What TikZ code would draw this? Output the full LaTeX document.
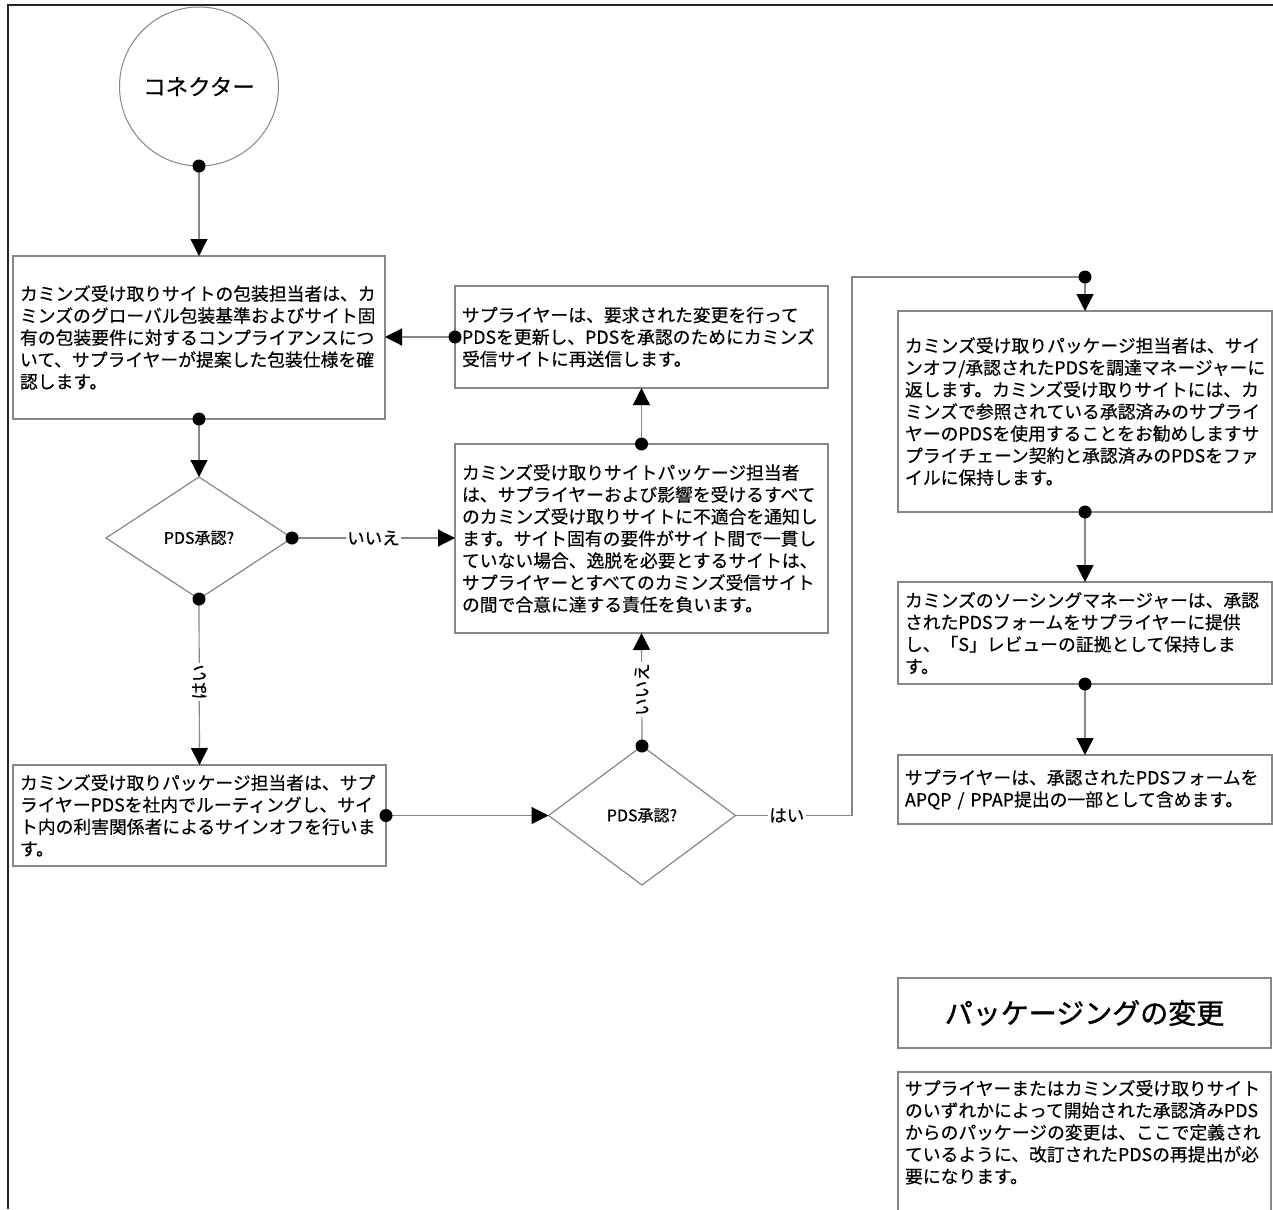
\documentclass[tikz,border=0pt]{standalone}
\usepackage{fontspec}
\setmainfont{Noto Sans CJK JP}[FakeBold=0.4]
\newfontfamily\titlefont{Noto Sans CJK JP}[FakeBold=1.2]
\usetikzlibrary{shapes.geometric,arrows.meta}
\definecolor{lg}{RGB}{135,135,135}
\newcommand\bodyfont{\fontsize{17.8}{22}\selectfont}
\tikzset{
  boxnode/.style={rectangle, draw=lg, line width=1.2pt, inner xsep=7pt, inner ysep=0pt,
    outer sep=0pt, text width=#1, align=left, font=\bodyfont},
  boxnode/.default=358pt,
  txtnode/.style={inner xsep=7pt, inner ysep=0pt, outer sep=0pt, text width=#1, align=left, font=\bodyfont},
  decision/.style={diamond, draw=lg, line width=1.2pt, inner sep=0pt, outer sep=0pt,
    font=\fontsize{16}{19}\selectfont},
  conn/.style={draw=lg, line width=1.2pt, -{Triangle[length=17pt,width=17pt,color=black]}},
  lbl/.style={fill=white, inner sep=1.5pt, text=black, font=\fontsize{17.5}{20}\selectfont},
  boxline/.style={draw=lg, line width=1.2pt},
}
\begin{document}
\begin{tikzpicture}[x=1pt,y=-1pt]
\useasboundingbox (0,0) rectangle (1273,1209);
\fill[white] (0,0) rectangle (1273,1209);
% frame
\draw[line width=1.6pt, black!85] (8,1209) -- (8,5) -- (1273,5);

% connector circle
\node[circle, draw=lg, line width=1pt, minimum size=159pt, inner sep=0pt, outer sep=0pt,
  font=\fontsize{22.5}{26}\selectfont] (start) at (199,86.5) {コネクター};

% boxes
\node[boxnode=358pt, minimum height=163pt] (box1) at (199,337.5) {カミンズ受け取りサイトの包装担当者は、カ\\ミンズのグローバル包装基準およびサイト固\\有の包装要件に対するコンプライアンスにつ\\いて、サプライヤーが提案した包装仕様を確\\認します。};
\node[boxnode=359pt, minimum height=102pt] (box2) at (641.5,337) {サプライヤーは、要求された変更を行って\\PDSを更新し、PDSを承認のためにカミンズ\\受信サイトに再送信します。};
\node[boxnode=359pt, minimum height=189pt] (box3) at (641.5,538.5) {カミンズ受け取りサイトパッケージ担当者\\は、サプライヤーおよび影響を受けるすべて\\のカミンズ受け取りサイトに不適合を通知し\\ます。サイト固有の要件がサイト間で一貫し\\ていない場合、逸脱を必要とするサイトは、\\サプライヤーとすべてのカミンズ受信サイト\\の間で合意に達する責任を負います。};
\node[boxnode=359pt, minimum height=101pt] (box4) at (199.5,815.5) {カミンズ受け取りパッケージ担当者は、サプ\\ライヤーPDSを社内でルーティングし、サイ\\ト内の利害関係者によるサインオフを行いま\\す。};
\node[boxnode=360pt, minimum height=201pt] (box5) at (1085,411.5) {カミンズ受け取りパッケージ担当者は、サイ\\ンオフ/承認されたPDSを調達マネージャーに\\返します。カミンズ受け取りサイトには、カ\\ミンズで参照されている承認済みのサプライ\\ヤーのPDSを使用することをお勧めしますサ\\プライチェーン契約と承認済みのPDSをファ\\イルに保持します。};
\node[boxnode=360pt, minimum height=102pt] (box6) at (1085,633) {カミンズのソーシングマネージャーは、承認\\されたPDSフォームをサプライヤーに提供\\し、「S」レビューの証拠として保持しま\\す。};
\node[boxnode=360pt, minimum height=69pt] (box7) at (1085,789.5) {サプライヤーは、承認されたPDSフォームを\\APQP / PPAP提出の一部として含めます。};

% decisions
\node[decision, minimum width=186pt, minimum height=122pt] (d1) at (199,538) {PDS承認?};
\node[decision, minimum width=187pt, minimum height=139pt] (d2) at (642,815.5) {PDS承認?};

% title and description
\node[rectangle, draw=lg, line width=1.2pt, minimum width=373pt, minimum height=70pt,
  inner sep=0pt, outer sep=0pt, font=\titlefont\fontsize{28}{32}\selectfont] (title) at (1084.5,1013) {パッケージングの変更};
\draw[boxline] (898,1260) -- (898,1072) -- (1271,1072) -- (1271,1260);
\node[txtnode=359pt, anchor=north west] (desc) at (898,1080) {サプライヤーまたはカミンズ受け取りサイト\\のいずれかによって開始された承認済みPDS\\からのパッケージの変更は、ここで定義され\\ているように、改訂されたPDSの再提出が必\\要になります。};

\coordinate (corner) at (1085,277);

% connectors
\draw[conn] (start.south) -- (box1.north);
\draw[conn] (box1.south) -- (d1.north);
\draw[conn] (d1.east) -- node[lbl]{いいえ} (d1.east -| box3.west);
\draw[conn] (d1.south) -- node[lbl, rotate=90]{はい} (box4.north);
\draw[conn] (box4.east) -- (d2.west);
\draw[conn] (d2.north) -- node[lbl, rotate=90]{いいえ} (box3.south);
\draw[conn] (box3.north) -- (box2.south);
\draw[conn] (box2.west) -- (box2.west -| box1.east);
\draw[conn] (d2.east) -- node[lbl, pos=0.44]{はい} (852,815.5) |- (corner) -- (box5.north);
\draw[conn] (box5.south) -- (box6.north);
\draw[conn] (box6.south) -- (box7.north);

% dots
\foreach \p in {start.south, box1.south, d1.east, d1.south, box4.east, d2.north, box3.north, box2.west, corner, box5.south, box6.south}
  \fill[black] (\p) circle (6.5);
\end{tikzpicture}
\end{document}
